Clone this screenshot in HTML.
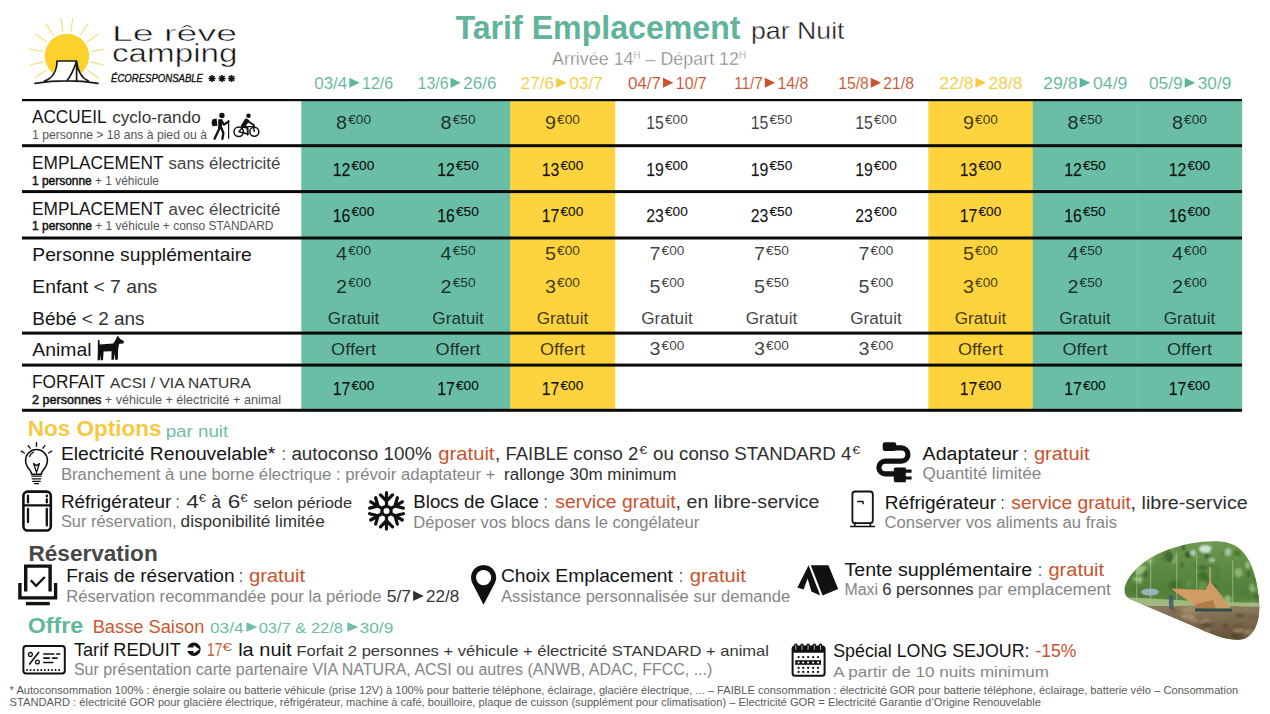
<!DOCTYPE html>
<html><head><meta charset="utf-8"><title>Tarif Emplacement</title>
<style>html,body{margin:0;padding:0;background:#fff;} svg{display:block;}</style></head>
<body><svg width="1270" height="714" viewBox="0 0 1270 714" font-family="Liberation Sans, sans-serif">
<rect width="1270" height="714" fill="#fff"/>
<rect x="301.3" y="100" width="104.9" height="311" fill="#6bbea6"/>
<rect x="405.8" y="100" width="104.9" height="311" fill="#6bbea6"/>
<rect x="510.3" y="100" width="104.9" height="311" fill="#fdd43d"/>
<rect x="928.3" y="100" width="104.9" height="311" fill="#fdd43d"/>
<rect x="1032.8" y="100" width="104.9" height="311" fill="#6bbea6"/>
<rect x="1137.3" y="100" width="104.9" height="311" fill="#6bbea6"/>
<rect x="22" y="99" width="1220" height="2.2" fill="#0a0a0a"/>
<rect x="22" y="144.2" width="1220" height="3" fill="#0a0a0a"/>
<rect x="22" y="190.1" width="1220" height="3" fill="#0a0a0a"/>
<rect x="22" y="236.5" width="1220" height="3" fill="#0a0a0a"/>
<rect x="22" y="331.6" width="1220" height="3" fill="#0a0a0a"/>
<rect x="22" y="363.6" width="1220" height="3" fill="#0a0a0a"/>
<rect x="22" y="408.8" width="1220" height="3" fill="#0a0a0a"/>
<text x="455.5" y="38.9" font-size="33" fill="#5fb49b" font-weight="bold" textLength="285.0" lengthAdjust="spacingAndGlyphs">Tarif Emplacement</text>
<text x="751.0" y="38.9" font-size="24.5" fill="#1a1a1a" textLength="93.5" lengthAdjust="spacingAndGlyphs" stroke="#fff" stroke-width="0.4">par Nuit</text>
<text x="552.0" y="64.6" font-size="18.5" fill="#7a7a7a" textLength="194.0" lengthAdjust="spacingAndGlyphs" stroke="#fff" stroke-width="0.4">Arrivée 14<tspan font-size="10" dy="-6">H</tspan><tspan dy="6"> – Départ 12</tspan><tspan font-size="10" dy="-6">H</tspan></text>
<text x="314.2" y="88.6" font-size="16.4" fill="#5fb49b" textLength="33.1" lengthAdjust="spacingAndGlyphs" stroke="#fff" stroke-width="0.1">03/4</text>
<path d="M349.3,77.8L359.7,82.75L349.3,87.7Z" fill="#5fb49b"/>
<text x="362.1" y="88.6" font-size="16.4" fill="#5fb49b" textLength="30.9" lengthAdjust="spacingAndGlyphs" stroke="#fff" stroke-width="0.1">12/6</text>
<text x="417.6" y="88.6" font-size="16.4" fill="#5fb49b" textLength="30.9" lengthAdjust="spacingAndGlyphs" stroke="#fff" stroke-width="0.1">13/6</text>
<path d="M450.5,77.8L460.9,82.75L450.5,87.7Z" fill="#5fb49b"/>
<text x="463.3" y="88.6" font-size="16.4" fill="#5fb49b" textLength="33.1" lengthAdjust="spacingAndGlyphs" stroke="#fff" stroke-width="0.1">26/6</text>
<text x="520.6" y="88.6" font-size="16.4" fill="#f4cc3f" textLength="33.6" lengthAdjust="spacingAndGlyphs" stroke="#fff" stroke-width="0.1">27/6</text>
<path d="M556.2,77.8L566.8,82.75L556.2,87.7Z" fill="#f4cc3f"/>
<text x="569.2" y="88.6" font-size="16.4" fill="#f4cc3f" textLength="33.6" lengthAdjust="spacingAndGlyphs" stroke="#fff" stroke-width="0.1">03/7</text>
<text x="627.9" y="88.6" font-size="16.4" fill="#c8532c" textLength="33.1" lengthAdjust="spacingAndGlyphs" stroke="#fff" stroke-width="0.1">04/7</text>
<path d="M663.0,77.8L673.4,82.75L663.0,87.7Z" fill="#c8532c"/>
<text x="675.8" y="88.6" font-size="16.4" fill="#c8532c" textLength="30.9" lengthAdjust="spacingAndGlyphs" stroke="#fff" stroke-width="0.1">10/7</text>
<text x="734.2" y="88.6" font-size="16.4" fill="#c8532c" textLength="28.6" lengthAdjust="spacingAndGlyphs" stroke="#fff" stroke-width="0.1">11/7</text>
<path d="M764.8,77.8L775.1,82.75L764.8,87.7Z" fill="#c8532c"/>
<text x="777.5" y="88.6" font-size="16.4" fill="#c8532c" textLength="30.8" lengthAdjust="spacingAndGlyphs" stroke="#fff" stroke-width="0.1">14/8</text>
<text x="838.2" y="88.6" font-size="16.4" fill="#c8532c" textLength="30.6" lengthAdjust="spacingAndGlyphs" stroke="#fff" stroke-width="0.1">15/8</text>
<path d="M870.7,77.8L881.0,82.75L870.7,87.7Z" fill="#c8532c"/>
<text x="883.3" y="88.6" font-size="16.4" fill="#c8532c" textLength="30.6" lengthAdjust="spacingAndGlyphs" stroke="#fff" stroke-width="0.1">21/8</text>
<text x="939.6" y="88.6" font-size="16.4" fill="#f4cc3f" textLength="33.8" lengthAdjust="spacingAndGlyphs" stroke="#fff" stroke-width="0.1">22/8</text>
<path d="M975.5,77.8L986.1,82.75L975.5,87.7Z" fill="#f4cc3f"/>
<text x="988.6" y="88.6" font-size="16.4" fill="#f4cc3f" textLength="33.8" lengthAdjust="spacingAndGlyphs" stroke="#fff" stroke-width="0.1">28/8</text>
<text x="1043.1" y="88.6" font-size="16.4" fill="#5fb49b" textLength="34.4" lengthAdjust="spacingAndGlyphs" stroke="#fff" stroke-width="0.1">29/8</text>
<path d="M1079.6,77.8L1090.4,82.75L1079.6,87.7Z" fill="#5fb49b"/>
<text x="1093.0" y="88.6" font-size="16.4" fill="#5fb49b" textLength="34.4" lengthAdjust="spacingAndGlyphs" stroke="#fff" stroke-width="0.1">04/9</text>
<text x="1148.9" y="88.6" font-size="16.4" fill="#5fb49b" textLength="33.7" lengthAdjust="spacingAndGlyphs" stroke="#fff" stroke-width="0.1">05/9</text>
<path d="M1184.7,77.8L1195.2,82.75L1184.7,87.7Z" fill="#5fb49b"/>
<text x="1197.7" y="88.6" font-size="16.4" fill="#5fb49b" textLength="33.7" lengthAdjust="spacingAndGlyphs" stroke="#fff" stroke-width="0.1">30/9</text>
<path d="M70.8,31.3L72.8,18.5M63.0,31.3L61.0,18.5M80.5,35.0L87.6,24.1M53.3,35.0L46.2,24.1M87.4,41.7L98.0,34.2M46.4,41.7L35.8,34.2M91.5,51.4L104.3,49.1M42.3,51.4L29.5,49.1M91.2,62.0L103.8,65.2M42.6,62.0L30.0,65.2M87.5,70.2L98.2,77.6M46.3,70.2L35.6,77.6" stroke="#f3e28e" stroke-width="1.3" stroke-linecap="round" fill="none"/>
<circle cx="66.9" cy="56" r="22.2" fill="#fdd12b"/>
<path d="M57,61 L76.6,61 C78,70 82,78 89,81 L90,84 L44,84 L44,81 C52,78 57,70 57,61Z" fill="#fff"/>
<path d="M57,61L76.6,61 M57,61 C57,70 53,78 44.5,81 M76.6,61 C77.5,70 81.5,78 88.5,81 M76.6,61 C74,69 71,76 67,80.5 M76.6,62 L76.6,80.5 M35,83.4 Q67,78.5 98,83.4" stroke="#1a1a1a" stroke-width="1.7" fill="none" stroke-linecap="round"/>
<text x="112.0" y="40.6" font-size="22.8" fill="#111" textLength="125.0" lengthAdjust="spacingAndGlyphs" stroke="#fff" stroke-width="0.45">Le rêve</text>
<text x="112.0" y="61.9" font-size="26" fill="#111" textLength="125.5" lengthAdjust="spacingAndGlyphs" stroke="#fff" stroke-width="0.5">camping</text>
<text x="111.0" y="81.8" font-size="11.2" fill="#111" textLength="92.0" lengthAdjust="spacingAndGlyphs" font-style="italic" stroke="#111" stroke-width="0.35">ÉCORESPONSABLE</text>
<path d="M208.40,78.50L215.60,78.50M209.45,75.95L214.55,81.05M212.00,74.90L212.00,82.10M214.55,75.95L209.45,81.05" stroke="#111" stroke-width="1.6"/>
<path d="M218.40,78.50L225.60,78.50M219.45,75.95L224.55,81.05M222.00,74.90L222.00,82.10M224.55,75.95L219.45,81.05" stroke="#111" stroke-width="1.6"/>
<path d="M227.90,78.50L235.10,78.50M228.95,75.95L234.05,81.05M231.50,74.90L231.50,82.10M234.05,75.95L228.95,81.05" stroke="#111" stroke-width="1.6"/>
<text x="32.0" y="122.5" font-size="17.6" fill="#151515" textLength="74.5" lengthAdjust="spacingAndGlyphs">ACCUEIL</text>
<text x="112.2" y="122.5" font-size="15.6" fill="#333" textLength="88.5" lengthAdjust="spacingAndGlyphs">cyclo-rando</text>
<text x="32.0" y="138.6" font-size="12.6" fill="#555" textLength="175.0" lengthAdjust="spacingAndGlyphs">1 personne &gt; 18 ans à pied ou à</text>
<text x="32.0" y="168.9" font-size="18.3" fill="#151515" textLength="131.5" lengthAdjust="spacingAndGlyphs">EMPLACEMENT</text>
<text x="168.5" y="168.9" font-size="15.8" fill="#444" textLength="112.0" lengthAdjust="spacingAndGlyphs">sans électricité</text>
<text x="32.0" y="184.5" font-size="12.2" fill="#222" textLength="127.0" lengthAdjust="spacingAndGlyphs"><tspan fill="#111" stroke="#111" stroke-width="0.45">1 personne</tspan><tspan fill="#555"> + 1 véhicule</tspan></text>
<text x="32.0" y="215.2" font-size="18.3" fill="#151515" textLength="131.5" lengthAdjust="spacingAndGlyphs">EMPLACEMENT</text>
<text x="168.5" y="215.2" font-size="15.8" fill="#444" textLength="112.0" lengthAdjust="spacingAndGlyphs">avec électricité</text>
<text x="32.0" y="230.4" font-size="12.2" fill="#222" textLength="241.5" lengthAdjust="spacingAndGlyphs"><tspan fill="#111" stroke="#111" stroke-width="0.45">1 personne</tspan><tspan fill="#555"> + 1 véhicule + conso STANDARD</tspan></text>
<text x="32.3" y="261.2" font-size="17.7" fill="#151515" textLength="219.5" lengthAdjust="spacingAndGlyphs">Personne supplémentaire</text>
<text x="32.3" y="292.9" font-size="17.7" fill="#151515" textLength="125.0" lengthAdjust="spacingAndGlyphs">Enfant<tspan fill="#333"> &lt; 7 ans</tspan></text>
<text x="32.3" y="324.6" font-size="17.7" fill="#151515" textLength="112.2" lengthAdjust="spacingAndGlyphs">Bébé<tspan fill="#333"> &lt; 2 ans</tspan></text>
<text x="32.3" y="356.3" font-size="17.7" fill="#151515" textLength="59.2" lengthAdjust="spacingAndGlyphs">Animal</text>
<text x="32.0" y="388.0" font-size="17.7" fill="#151515" textLength="72.8" lengthAdjust="spacingAndGlyphs">FORFAIT</text>
<text x="110.0" y="388.0" font-size="14.8" fill="#333" textLength="141.0" lengthAdjust="spacingAndGlyphs">ACSI / VIA NATURA</text>
<text x="32.0" y="403.9" font-size="12.2" fill="#222" textLength="249.0" lengthAdjust="spacingAndGlyphs"><tspan fill="#111" stroke="#111" stroke-width="0.45">2 personnes</tspan><tspan fill="#555"> + véhicule + électricité + animal</tspan></text>
<text x="336.1" y="129.4" font-size="17.6" textLength="11.0" lengthAdjust="spacingAndGlyphs" fill="#000" fill-opacity="0.76">8</text>
<text x="348.2" y="124.2" font-size="12.3" textLength="22.8" lengthAdjust="spacingAndGlyphs" fill="#000" fill-opacity="0.76">€00</text>
<text x="440.6" y="129.4" font-size="17.6" textLength="11.0" lengthAdjust="spacingAndGlyphs" fill="#000" fill-opacity="0.76">8</text>
<text x="452.7" y="124.2" font-size="12.3" textLength="22.8" lengthAdjust="spacingAndGlyphs" fill="#000" fill-opacity="0.76">€50</text>
<text x="545.0" y="129.4" font-size="17.6" textLength="11.0" lengthAdjust="spacingAndGlyphs" fill="#000" fill-opacity="0.76">9</text>
<text x="557.1" y="124.2" font-size="12.3" textLength="22.8" lengthAdjust="spacingAndGlyphs" fill="#000" fill-opacity="0.76">€00</text>
<text x="646.2" y="129.4" font-size="17.6" textLength="17.6" lengthAdjust="spacingAndGlyphs" fill="#000" fill-opacity="0.76">15</text>
<text x="665.0" y="124.2" font-size="12.3" textLength="22.8" lengthAdjust="spacingAndGlyphs" fill="#000" fill-opacity="0.76">€00</text>
<text x="750.8" y="129.4" font-size="17.6" textLength="17.6" lengthAdjust="spacingAndGlyphs" fill="#000" fill-opacity="0.76">15</text>
<text x="769.5" y="124.2" font-size="12.3" textLength="22.8" lengthAdjust="spacingAndGlyphs" fill="#000" fill-opacity="0.76">€50</text>
<text x="855.2" y="129.4" font-size="17.6" textLength="17.6" lengthAdjust="spacingAndGlyphs" fill="#000" fill-opacity="0.76">15</text>
<text x="874.0" y="124.2" font-size="12.3" textLength="22.8" lengthAdjust="spacingAndGlyphs" fill="#000" fill-opacity="0.76">€00</text>
<text x="963.0" y="129.4" font-size="17.6" textLength="11.0" lengthAdjust="spacingAndGlyphs" fill="#000" fill-opacity="0.76">9</text>
<text x="975.1" y="124.2" font-size="12.3" textLength="22.8" lengthAdjust="spacingAndGlyphs" fill="#000" fill-opacity="0.76">€00</text>
<text x="1067.5" y="129.4" font-size="17.6" textLength="11.0" lengthAdjust="spacingAndGlyphs" fill="#000" fill-opacity="0.76">8</text>
<text x="1079.6" y="124.2" font-size="12.3" textLength="22.8" lengthAdjust="spacingAndGlyphs" fill="#000" fill-opacity="0.76">€50</text>
<text x="1172.0" y="129.4" font-size="17.6" textLength="11.0" lengthAdjust="spacingAndGlyphs" fill="#000" fill-opacity="0.76">8</text>
<text x="1184.1" y="124.2" font-size="12.3" textLength="22.8" lengthAdjust="spacingAndGlyphs" fill="#000" fill-opacity="0.76">€00</text>
<text x="332.8" y="175.5" font-size="17.6" textLength="17.6" lengthAdjust="spacingAndGlyphs" fill="#000" fill-opacity="0.93" stroke="#000" stroke-opacity="0.5" stroke-width="0.25">12</text>
<text x="351.5" y="170.3" font-size="12.3" textLength="22.8" lengthAdjust="spacingAndGlyphs" fill="#000" fill-opacity="0.93" stroke="#000" stroke-opacity="0.5" stroke-width="0.25">€00</text>
<text x="437.2" y="175.5" font-size="17.6" textLength="17.6" lengthAdjust="spacingAndGlyphs" fill="#000" fill-opacity="0.93" stroke="#000" stroke-opacity="0.5" stroke-width="0.25">12</text>
<text x="456.0" y="170.3" font-size="12.3" textLength="22.8" lengthAdjust="spacingAndGlyphs" fill="#000" fill-opacity="0.93" stroke="#000" stroke-opacity="0.5" stroke-width="0.25">€50</text>
<text x="541.8" y="175.5" font-size="17.6" textLength="17.6" lengthAdjust="spacingAndGlyphs" fill="#000" fill-opacity="0.93" stroke="#000" stroke-opacity="0.5" stroke-width="0.25">13</text>
<text x="560.5" y="170.3" font-size="12.3" textLength="22.8" lengthAdjust="spacingAndGlyphs" fill="#000" fill-opacity="0.93" stroke="#000" stroke-opacity="0.5" stroke-width="0.25">€00</text>
<text x="646.2" y="175.5" font-size="17.6" textLength="17.6" lengthAdjust="spacingAndGlyphs" fill="#000" fill-opacity="0.93" stroke="#000" stroke-opacity="0.5" stroke-width="0.25">19</text>
<text x="665.0" y="170.3" font-size="12.3" textLength="22.8" lengthAdjust="spacingAndGlyphs" fill="#000" fill-opacity="0.93" stroke="#000" stroke-opacity="0.5" stroke-width="0.25">€00</text>
<text x="750.8" y="175.5" font-size="17.6" textLength="17.6" lengthAdjust="spacingAndGlyphs" fill="#000" fill-opacity="0.93" stroke="#000" stroke-opacity="0.5" stroke-width="0.25">19</text>
<text x="769.5" y="170.3" font-size="12.3" textLength="22.8" lengthAdjust="spacingAndGlyphs" fill="#000" fill-opacity="0.93" stroke="#000" stroke-opacity="0.5" stroke-width="0.25">€50</text>
<text x="855.2" y="175.5" font-size="17.6" textLength="17.6" lengthAdjust="spacingAndGlyphs" fill="#000" fill-opacity="0.93" stroke="#000" stroke-opacity="0.5" stroke-width="0.25">19</text>
<text x="874.0" y="170.3" font-size="12.3" textLength="22.8" lengthAdjust="spacingAndGlyphs" fill="#000" fill-opacity="0.93" stroke="#000" stroke-opacity="0.5" stroke-width="0.25">€00</text>
<text x="959.8" y="175.5" font-size="17.6" textLength="17.6" lengthAdjust="spacingAndGlyphs" fill="#000" fill-opacity="0.93" stroke="#000" stroke-opacity="0.5" stroke-width="0.25">13</text>
<text x="978.5" y="170.3" font-size="12.3" textLength="22.8" lengthAdjust="spacingAndGlyphs" fill="#000" fill-opacity="0.93" stroke="#000" stroke-opacity="0.5" stroke-width="0.25">€00</text>
<text x="1064.2" y="175.5" font-size="17.6" textLength="17.6" lengthAdjust="spacingAndGlyphs" fill="#000" fill-opacity="0.93" stroke="#000" stroke-opacity="0.5" stroke-width="0.25">12</text>
<text x="1082.9" y="170.3" font-size="12.3" textLength="22.8" lengthAdjust="spacingAndGlyphs" fill="#000" fill-opacity="0.93" stroke="#000" stroke-opacity="0.5" stroke-width="0.25">€50</text>
<text x="1168.8" y="175.5" font-size="17.6" textLength="17.6" lengthAdjust="spacingAndGlyphs" fill="#000" fill-opacity="0.93" stroke="#000" stroke-opacity="0.5" stroke-width="0.25">12</text>
<text x="1187.4" y="170.3" font-size="12.3" textLength="22.8" lengthAdjust="spacingAndGlyphs" fill="#000" fill-opacity="0.93" stroke="#000" stroke-opacity="0.5" stroke-width="0.25">€00</text>
<text x="332.8" y="221.6" font-size="17.6" textLength="17.6" lengthAdjust="spacingAndGlyphs" fill="#000" fill-opacity="0.93" stroke="#000" stroke-opacity="0.5" stroke-width="0.25">16</text>
<text x="351.5" y="216.4" font-size="12.3" textLength="22.8" lengthAdjust="spacingAndGlyphs" fill="#000" fill-opacity="0.93" stroke="#000" stroke-opacity="0.5" stroke-width="0.25">€00</text>
<text x="437.2" y="221.6" font-size="17.6" textLength="17.6" lengthAdjust="spacingAndGlyphs" fill="#000" fill-opacity="0.93" stroke="#000" stroke-opacity="0.5" stroke-width="0.25">16</text>
<text x="456.0" y="216.4" font-size="12.3" textLength="22.8" lengthAdjust="spacingAndGlyphs" fill="#000" fill-opacity="0.93" stroke="#000" stroke-opacity="0.5" stroke-width="0.25">€50</text>
<text x="541.8" y="221.6" font-size="17.6" textLength="17.6" lengthAdjust="spacingAndGlyphs" fill="#000" fill-opacity="0.93" stroke="#000" stroke-opacity="0.5" stroke-width="0.25">17</text>
<text x="560.5" y="216.4" font-size="12.3" textLength="22.8" lengthAdjust="spacingAndGlyphs" fill="#000" fill-opacity="0.93" stroke="#000" stroke-opacity="0.5" stroke-width="0.25">€00</text>
<text x="646.2" y="221.6" font-size="17.6" textLength="17.6" lengthAdjust="spacingAndGlyphs" fill="#000" fill-opacity="0.93" stroke="#000" stroke-opacity="0.5" stroke-width="0.25">23</text>
<text x="665.0" y="216.4" font-size="12.3" textLength="22.8" lengthAdjust="spacingAndGlyphs" fill="#000" fill-opacity="0.93" stroke="#000" stroke-opacity="0.5" stroke-width="0.25">€00</text>
<text x="750.8" y="221.6" font-size="17.6" textLength="17.6" lengthAdjust="spacingAndGlyphs" fill="#000" fill-opacity="0.93" stroke="#000" stroke-opacity="0.5" stroke-width="0.25">23</text>
<text x="769.5" y="216.4" font-size="12.3" textLength="22.8" lengthAdjust="spacingAndGlyphs" fill="#000" fill-opacity="0.93" stroke="#000" stroke-opacity="0.5" stroke-width="0.25">€50</text>
<text x="855.2" y="221.6" font-size="17.6" textLength="17.6" lengthAdjust="spacingAndGlyphs" fill="#000" fill-opacity="0.93" stroke="#000" stroke-opacity="0.5" stroke-width="0.25">23</text>
<text x="874.0" y="216.4" font-size="12.3" textLength="22.8" lengthAdjust="spacingAndGlyphs" fill="#000" fill-opacity="0.93" stroke="#000" stroke-opacity="0.5" stroke-width="0.25">€00</text>
<text x="959.8" y="221.6" font-size="17.6" textLength="17.6" lengthAdjust="spacingAndGlyphs" fill="#000" fill-opacity="0.93" stroke="#000" stroke-opacity="0.5" stroke-width="0.25">17</text>
<text x="978.5" y="216.4" font-size="12.3" textLength="22.8" lengthAdjust="spacingAndGlyphs" fill="#000" fill-opacity="0.93" stroke="#000" stroke-opacity="0.5" stroke-width="0.25">€00</text>
<text x="1064.2" y="221.6" font-size="17.6" textLength="17.6" lengthAdjust="spacingAndGlyphs" fill="#000" fill-opacity="0.93" stroke="#000" stroke-opacity="0.5" stroke-width="0.25">16</text>
<text x="1082.9" y="216.4" font-size="12.3" textLength="22.8" lengthAdjust="spacingAndGlyphs" fill="#000" fill-opacity="0.93" stroke="#000" stroke-opacity="0.5" stroke-width="0.25">€50</text>
<text x="1168.8" y="221.6" font-size="17.6" textLength="17.6" lengthAdjust="spacingAndGlyphs" fill="#000" fill-opacity="0.93" stroke="#000" stroke-opacity="0.5" stroke-width="0.25">16</text>
<text x="1187.4" y="216.4" font-size="12.3" textLength="22.8" lengthAdjust="spacingAndGlyphs" fill="#000" fill-opacity="0.93" stroke="#000" stroke-opacity="0.5" stroke-width="0.25">€00</text>
<text x="336.1" y="260.4" font-size="17.6" textLength="11.0" lengthAdjust="spacingAndGlyphs" fill="#000" fill-opacity="0.76">4</text>
<text x="348.2" y="255.2" font-size="12.3" textLength="22.8" lengthAdjust="spacingAndGlyphs" fill="#000" fill-opacity="0.76">€00</text>
<text x="440.6" y="260.4" font-size="17.6" textLength="11.0" lengthAdjust="spacingAndGlyphs" fill="#000" fill-opacity="0.76">4</text>
<text x="452.7" y="255.2" font-size="12.3" textLength="22.8" lengthAdjust="spacingAndGlyphs" fill="#000" fill-opacity="0.76">€50</text>
<text x="545.0" y="260.4" font-size="17.6" textLength="11.0" lengthAdjust="spacingAndGlyphs" fill="#000" fill-opacity="0.76">5</text>
<text x="557.1" y="255.2" font-size="12.3" textLength="22.8" lengthAdjust="spacingAndGlyphs" fill="#000" fill-opacity="0.76">€00</text>
<text x="649.5" y="260.4" font-size="17.6" textLength="11.0" lengthAdjust="spacingAndGlyphs" fill="#000" fill-opacity="0.76">7</text>
<text x="661.6" y="255.2" font-size="12.3" textLength="22.8" lengthAdjust="spacingAndGlyphs" fill="#000" fill-opacity="0.76">€00</text>
<text x="754.0" y="260.4" font-size="17.6" textLength="11.0" lengthAdjust="spacingAndGlyphs" fill="#000" fill-opacity="0.76">7</text>
<text x="766.1" y="255.2" font-size="12.3" textLength="22.8" lengthAdjust="spacingAndGlyphs" fill="#000" fill-opacity="0.76">€50</text>
<text x="858.5" y="260.4" font-size="17.6" textLength="11.0" lengthAdjust="spacingAndGlyphs" fill="#000" fill-opacity="0.76">7</text>
<text x="870.6" y="255.2" font-size="12.3" textLength="22.8" lengthAdjust="spacingAndGlyphs" fill="#000" fill-opacity="0.76">€00</text>
<text x="963.0" y="260.4" font-size="17.6" textLength="11.0" lengthAdjust="spacingAndGlyphs" fill="#000" fill-opacity="0.76">5</text>
<text x="975.1" y="255.2" font-size="12.3" textLength="22.8" lengthAdjust="spacingAndGlyphs" fill="#000" fill-opacity="0.76">€00</text>
<text x="1067.5" y="260.4" font-size="17.6" textLength="11.0" lengthAdjust="spacingAndGlyphs" fill="#000" fill-opacity="0.76">4</text>
<text x="1079.6" y="255.2" font-size="12.3" textLength="22.8" lengthAdjust="spacingAndGlyphs" fill="#000" fill-opacity="0.76">€50</text>
<text x="1172.0" y="260.4" font-size="17.6" textLength="11.0" lengthAdjust="spacingAndGlyphs" fill="#000" fill-opacity="0.76">4</text>
<text x="1184.1" y="255.2" font-size="12.3" textLength="22.8" lengthAdjust="spacingAndGlyphs" fill="#000" fill-opacity="0.76">€00</text>
<text x="336.1" y="292.5" font-size="17.6" textLength="11.0" lengthAdjust="spacingAndGlyphs" fill="#000" fill-opacity="0.76">2</text>
<text x="348.2" y="287.3" font-size="12.3" textLength="22.8" lengthAdjust="spacingAndGlyphs" fill="#000" fill-opacity="0.76">€00</text>
<text x="440.6" y="292.5" font-size="17.6" textLength="11.0" lengthAdjust="spacingAndGlyphs" fill="#000" fill-opacity="0.76">2</text>
<text x="452.7" y="287.3" font-size="12.3" textLength="22.8" lengthAdjust="spacingAndGlyphs" fill="#000" fill-opacity="0.76">€50</text>
<text x="545.0" y="292.5" font-size="17.6" textLength="11.0" lengthAdjust="spacingAndGlyphs" fill="#000" fill-opacity="0.76">3</text>
<text x="557.1" y="287.3" font-size="12.3" textLength="22.8" lengthAdjust="spacingAndGlyphs" fill="#000" fill-opacity="0.76">€00</text>
<text x="649.5" y="292.5" font-size="17.6" textLength="11.0" lengthAdjust="spacingAndGlyphs" fill="#000" fill-opacity="0.76">5</text>
<text x="661.6" y="287.3" font-size="12.3" textLength="22.8" lengthAdjust="spacingAndGlyphs" fill="#000" fill-opacity="0.76">€00</text>
<text x="754.0" y="292.5" font-size="17.6" textLength="11.0" lengthAdjust="spacingAndGlyphs" fill="#000" fill-opacity="0.76">5</text>
<text x="766.1" y="287.3" font-size="12.3" textLength="22.8" lengthAdjust="spacingAndGlyphs" fill="#000" fill-opacity="0.76">€50</text>
<text x="858.5" y="292.5" font-size="17.6" textLength="11.0" lengthAdjust="spacingAndGlyphs" fill="#000" fill-opacity="0.76">5</text>
<text x="870.6" y="287.3" font-size="12.3" textLength="22.8" lengthAdjust="spacingAndGlyphs" fill="#000" fill-opacity="0.76">€00</text>
<text x="963.0" y="292.5" font-size="17.6" textLength="11.0" lengthAdjust="spacingAndGlyphs" fill="#000" fill-opacity="0.76">3</text>
<text x="975.1" y="287.3" font-size="12.3" textLength="22.8" lengthAdjust="spacingAndGlyphs" fill="#000" fill-opacity="0.76">€00</text>
<text x="1067.5" y="292.5" font-size="17.6" textLength="11.0" lengthAdjust="spacingAndGlyphs" fill="#000" fill-opacity="0.76">2</text>
<text x="1079.6" y="287.3" font-size="12.3" textLength="22.8" lengthAdjust="spacingAndGlyphs" fill="#000" fill-opacity="0.76">€50</text>
<text x="1172.0" y="292.5" font-size="17.6" textLength="11.0" lengthAdjust="spacingAndGlyphs" fill="#000" fill-opacity="0.76">2</text>
<text x="1184.1" y="287.3" font-size="12.3" textLength="22.8" lengthAdjust="spacingAndGlyphs" fill="#000" fill-opacity="0.76">€00</text>
<text x="353.6" y="323.7" font-size="16.3" text-anchor="middle" textLength="51.5" lengthAdjust="spacingAndGlyphs" fill="#000" fill-opacity="0.76">Gratuit</text>
<text x="458.1" y="323.7" font-size="16.3" text-anchor="middle" textLength="51.5" lengthAdjust="spacingAndGlyphs" fill="#000" fill-opacity="0.76">Gratuit</text>
<text x="562.5" y="323.7" font-size="16.3" text-anchor="middle" textLength="51.5" lengthAdjust="spacingAndGlyphs" fill="#000" fill-opacity="0.76">Gratuit</text>
<text x="667.0" y="323.7" font-size="16.3" text-anchor="middle" textLength="51.5" lengthAdjust="spacingAndGlyphs" fill="#000" fill-opacity="0.76">Gratuit</text>
<text x="771.5" y="323.7" font-size="16.3" text-anchor="middle" textLength="51.5" lengthAdjust="spacingAndGlyphs" fill="#000" fill-opacity="0.76">Gratuit</text>
<text x="876.0" y="323.7" font-size="16.3" text-anchor="middle" textLength="51.5" lengthAdjust="spacingAndGlyphs" fill="#000" fill-opacity="0.76">Gratuit</text>
<text x="980.5" y="323.7" font-size="16.3" text-anchor="middle" textLength="51.5" lengthAdjust="spacingAndGlyphs" fill="#000" fill-opacity="0.76">Gratuit</text>
<text x="1085.0" y="323.7" font-size="16.3" text-anchor="middle" textLength="51.5" lengthAdjust="spacingAndGlyphs" fill="#000" fill-opacity="0.76">Gratuit</text>
<text x="1189.5" y="323.7" font-size="16.3" text-anchor="middle" textLength="51.5" lengthAdjust="spacingAndGlyphs" fill="#000" fill-opacity="0.76">Gratuit</text>
<text x="353.6" y="354.7" font-size="16.3" text-anchor="middle" textLength="45" lengthAdjust="spacingAndGlyphs" fill="#000" fill-opacity="0.76">Offert</text>
<text x="458.1" y="354.7" font-size="16.3" text-anchor="middle" textLength="45" lengthAdjust="spacingAndGlyphs" fill="#000" fill-opacity="0.76">Offert</text>
<text x="562.5" y="354.7" font-size="16.3" text-anchor="middle" textLength="45" lengthAdjust="spacingAndGlyphs" fill="#000" fill-opacity="0.76">Offert</text>
<text x="649.5" y="354.7" font-size="17.6" textLength="11.0" lengthAdjust="spacingAndGlyphs" fill="#000" fill-opacity="0.76">3</text>
<text x="661.6" y="349.5" font-size="12.3" textLength="22.8" lengthAdjust="spacingAndGlyphs" fill="#000" fill-opacity="0.76">€00</text>
<text x="754.0" y="354.7" font-size="17.6" textLength="11.0" lengthAdjust="spacingAndGlyphs" fill="#000" fill-opacity="0.76">3</text>
<text x="766.1" y="349.5" font-size="12.3" textLength="22.8" lengthAdjust="spacingAndGlyphs" fill="#000" fill-opacity="0.76">€00</text>
<text x="858.5" y="354.7" font-size="17.6" textLength="11.0" lengthAdjust="spacingAndGlyphs" fill="#000" fill-opacity="0.76">3</text>
<text x="870.6" y="349.5" font-size="12.3" textLength="22.8" lengthAdjust="spacingAndGlyphs" fill="#000" fill-opacity="0.76">€00</text>
<text x="980.5" y="354.7" font-size="16.3" text-anchor="middle" textLength="45" lengthAdjust="spacingAndGlyphs" fill="#000" fill-opacity="0.76">Offert</text>
<text x="1085.0" y="354.7" font-size="16.3" text-anchor="middle" textLength="45" lengthAdjust="spacingAndGlyphs" fill="#000" fill-opacity="0.76">Offert</text>
<text x="1189.5" y="354.7" font-size="16.3" text-anchor="middle" textLength="45" lengthAdjust="spacingAndGlyphs" fill="#000" fill-opacity="0.76">Offert</text>
<text x="332.8" y="395.0" font-size="17.6" textLength="17.6" lengthAdjust="spacingAndGlyphs" fill="#000" fill-opacity="0.93" stroke="#000" stroke-opacity="0.5" stroke-width="0.25">17</text>
<text x="351.5" y="389.8" font-size="12.3" textLength="22.8" lengthAdjust="spacingAndGlyphs" fill="#000" fill-opacity="0.93" stroke="#000" stroke-opacity="0.5" stroke-width="0.25">€00</text>
<text x="437.2" y="395.0" font-size="17.6" textLength="17.6" lengthAdjust="spacingAndGlyphs" fill="#000" fill-opacity="0.93" stroke="#000" stroke-opacity="0.5" stroke-width="0.25">17</text>
<text x="456.0" y="389.8" font-size="12.3" textLength="22.8" lengthAdjust="spacingAndGlyphs" fill="#000" fill-opacity="0.93" stroke="#000" stroke-opacity="0.5" stroke-width="0.25">€00</text>
<text x="541.8" y="395.0" font-size="17.6" textLength="17.6" lengthAdjust="spacingAndGlyphs" fill="#000" fill-opacity="0.93" stroke="#000" stroke-opacity="0.5" stroke-width="0.25">17</text>
<text x="560.5" y="389.8" font-size="12.3" textLength="22.8" lengthAdjust="spacingAndGlyphs" fill="#000" fill-opacity="0.93" stroke="#000" stroke-opacity="0.5" stroke-width="0.25">€00</text>
<text x="959.8" y="395.0" font-size="17.6" textLength="17.6" lengthAdjust="spacingAndGlyphs" fill="#000" fill-opacity="0.93" stroke="#000" stroke-opacity="0.5" stroke-width="0.25">17</text>
<text x="978.5" y="389.8" font-size="12.3" textLength="22.8" lengthAdjust="spacingAndGlyphs" fill="#000" fill-opacity="0.93" stroke="#000" stroke-opacity="0.5" stroke-width="0.25">€00</text>
<text x="1064.2" y="395.0" font-size="17.6" textLength="17.6" lengthAdjust="spacingAndGlyphs" fill="#000" fill-opacity="0.93" stroke="#000" stroke-opacity="0.5" stroke-width="0.25">17</text>
<text x="1082.9" y="389.8" font-size="12.3" textLength="22.8" lengthAdjust="spacingAndGlyphs" fill="#000" fill-opacity="0.93" stroke="#000" stroke-opacity="0.5" stroke-width="0.25">€00</text>
<text x="1168.8" y="395.0" font-size="17.6" textLength="17.6" lengthAdjust="spacingAndGlyphs" fill="#000" fill-opacity="0.93" stroke="#000" stroke-opacity="0.5" stroke-width="0.25">17</text>
<text x="1187.4" y="389.8" font-size="12.3" textLength="22.8" lengthAdjust="spacingAndGlyphs" fill="#000" fill-opacity="0.93" stroke="#000" stroke-opacity="0.5" stroke-width="0.25">€00</text>
<g fill="#111" stroke="none"><circle cx="221.9" cy="115.4" r="2.7"/><path d="M212.8,119.3 L216.6,118.4 L217.4,125.8 L212.6,126.2 Q210.6,122.5 212.8,119.3Z"/><path d="M218.2,119.2 L222.6,119.2 L221.8,128.6 L218.2,128.2Z"/></g>
<path d="M221.5,121 L224,124.6 L228.4,121.6 M219.6,128 L214.6,138.8 M221.4,128 L223.4,133.2 L222.4,138.8" stroke="#111" stroke-width="2.3" fill="none" stroke-linecap="round" stroke-linejoin="round"/>
<path d="M228.6,120 L228.6,138.8" stroke="#111" stroke-width="1.2"/>
<g fill="none" stroke="#111" stroke-width="1.5"><circle cx="238.7" cy="131.8" r="4.7"/><circle cx="254.3" cy="131.8" r="4.5"/></g>
<circle cx="248.5" cy="115.7" r="2.3" fill="#111"/>
<path d="M245.2,118.6 Q247.6,118.4 249.4,120.4 L244.6,128 L240.4,126.6Z" fill="#111"/>
<path d="M246.8,120.6 L253.6,124.8 L254.2,127 M242,126.4 L247.6,128.2 L247.8,134.6" stroke="#111" stroke-width="1.9" fill="none" stroke-linecap="round" stroke-linejoin="round"/>
<path d="M238.7,131.8 L243.5,126.6 L253.5,126.6 L254.3,131.8 M238.7,131.8 L247.8,134" stroke="#111" stroke-width="1.4" fill="none" stroke-linejoin="round"/>
<path fill="#111" d="M97.9,340 L99.4,340 L99.8,344.4 L113.2,343.4 L115.8,339.6 L117.6,335.6 L120.2,339 L123.9,341 L123.4,343.4 L119.2,343.8 L118.2,348.2 L117.8,359.7 L115.2,359.7 L114.8,353.4 L113.8,359.7 L111.4,359.7 L111.6,351.2 L103.6,351.4 L103,360.3 L100.6,360.3 L100.6,355 L99.8,360.3 L97.6,360.3 L97.8,350 Z"/>
<text x="27.7" y="436.4" font-size="21.8" fill="#f5ca43" font-weight="bold" textLength="133.8" lengthAdjust="spacingAndGlyphs">Nos Options</text>
<text x="165.7" y="437.2" font-size="17" fill="#6fbea6" textLength="62.5" lengthAdjust="spacingAndGlyphs">par nuit</text>
<text x="60.9" y="459.9" font-size="17.6" fill="#141414" textLength="214.3" lengthAdjust="spacingAndGlyphs">Electricité Renouvelable*</text>
<text x="281.9" y="459.9" font-size="17.6" fill="#2e2e2e" textLength="3.5" lengthAdjust="spacingAndGlyphs">:</text>
<text x="291.4" y="459.9" font-size="17.6" fill="#2e2e2e" textLength="140.4" lengthAdjust="spacingAndGlyphs">autoconso 100%</text>
<text x="438.3" y="459.9" font-size="17.6" fill="#c9522c" textLength="56.2" lengthAdjust="spacingAndGlyphs">gratuit</text>
<text x="495.1" y="459.9" font-size="17.6" fill="#2e2e2e" textLength="143.2" lengthAdjust="spacingAndGlyphs">, FAIBLE conso 2</text>
<text x="639.2" y="454.4" font-size="11" fill="#2e2e2e" textLength="7.8" lengthAdjust="spacingAndGlyphs">€</text>
<text x="653.1" y="459.9" font-size="17.6" fill="#2e2e2e" textLength="198.3" lengthAdjust="spacingAndGlyphs">ou conso STANDARD 4</text>
<text x="852.3" y="454.4" font-size="11" fill="#2e2e2e" textLength="7.8" lengthAdjust="spacingAndGlyphs">€</text>
<text x="60.9" y="479.5" font-size="15.6" fill="#858585" textLength="434.5" lengthAdjust="spacingAndGlyphs">Branchement à une borne électrique : prévoir adaptateur +</text>
<text x="504.1" y="479.5" font-size="15.6" fill="#2e2e2e" textLength="172.3" lengthAdjust="spacingAndGlyphs">rallonge 30m minimum</text>
<text x="60.9" y="507.7" font-size="17.6" fill="#141414" textLength="110.4" lengthAdjust="spacingAndGlyphs">Réfrigérateur</text>
<text x="176.1" y="507.7" font-size="17.6" fill="#2e2e2e" textLength="3.3" lengthAdjust="spacingAndGlyphs">:</text>
<text x="186.3" y="507.7" font-size="17.6" fill="#2e2e2e" textLength="12.7" lengthAdjust="spacingAndGlyphs">4</text>
<text x="198.8" y="502.2" font-size="11" fill="#2e2e2e" textLength="7.1" lengthAdjust="spacingAndGlyphs">€</text>
<text x="211.5" y="507.7" font-size="17.6" fill="#2e2e2e" textLength="9.4" lengthAdjust="spacingAndGlyphs">à</text>
<text x="227.8" y="507.7" font-size="17.6" fill="#2e2e2e" textLength="12.6" lengthAdjust="spacingAndGlyphs">6</text>
<text x="240.2" y="502.2" font-size="11" fill="#2e2e2e" textLength="7.3" lengthAdjust="spacingAndGlyphs">€</text>
<text x="253.6" y="507.7" font-size="15" fill="#2e2e2e" textLength="98.5" lengthAdjust="spacingAndGlyphs">selon période</text>
<text x="60.9" y="527.4" font-size="15.6" fill="#858585" textLength="115.8" lengthAdjust="spacingAndGlyphs">Sur réservation,</text>
<text x="180.6" y="527.4" font-size="15.6" fill="#333" textLength="144.1" lengthAdjust="spacingAndGlyphs">disponibilité limitée</text>
<text x="413.3" y="508.0" font-size="17.6" fill="#141414" textLength="125.5" lengthAdjust="spacingAndGlyphs">Blocs de Glace</text>
<text x="544.1" y="508.0" font-size="17.6" fill="#2e2e2e" textLength="3.3" lengthAdjust="spacingAndGlyphs">:</text>
<text x="555.3" y="508.0" font-size="17.6" fill="#c9522c" textLength="120.4" lengthAdjust="spacingAndGlyphs">service gratuit</text>
<text x="675.6" y="508.0" font-size="17.6" fill="#2e2e2e" textLength="143.9" lengthAdjust="spacingAndGlyphs">, en libre-service</text>
<text x="413.3" y="527.7" font-size="15.6" fill="#858585" textLength="285.9" lengthAdjust="spacingAndGlyphs">Déposer vos blocs dans le congélateur</text>
<text x="922.6" y="459.8" font-size="17.6" fill="#141414" textLength="96.0" lengthAdjust="spacingAndGlyphs">Adaptateur</text>
<text x="1023.4" y="459.8" font-size="17.6" fill="#2e2e2e" textLength="3.5" lengthAdjust="spacingAndGlyphs">:</text>
<text x="1033.9" y="459.8" font-size="17.6" fill="#c9522c" textLength="55.7" lengthAdjust="spacingAndGlyphs">gratuit</text>
<text x="922.6" y="479.2" font-size="15.6" fill="#858585" textLength="118.6" lengthAdjust="spacingAndGlyphs">Quantité limitée</text>
<text x="884.8" y="509.1" font-size="17.6" fill="#141414" textLength="111.2" lengthAdjust="spacingAndGlyphs">Réfrigérateur</text>
<text x="1000.8" y="509.1" font-size="17.6" fill="#2e2e2e" textLength="3.6" lengthAdjust="spacingAndGlyphs">:</text>
<text x="1011.3" y="509.1" font-size="17.6" fill="#c9522c" textLength="119.6" lengthAdjust="spacingAndGlyphs">service gratuit</text>
<text x="1130.6" y="509.1" font-size="17.6" fill="#2e2e2e" textLength="117.1" lengthAdjust="spacingAndGlyphs">, libre-service</text>
<text x="884.6" y="527.8" font-size="15.6" fill="#858585" textLength="232.4" lengthAdjust="spacingAndGlyphs">Conserver vos aliments au frais</text>
<text x="28.5" y="561.4" font-size="21.6" fill="#474747" font-weight="bold" textLength="129.2" lengthAdjust="spacingAndGlyphs">Réservation</text>
<text x="66.2" y="581.6" font-size="17.6" fill="#141414" textLength="168.3" lengthAdjust="spacingAndGlyphs">Frais de réservation</text>
<text x="239.2" y="581.6" font-size="17.6" fill="#2e2e2e" textLength="3.5" lengthAdjust="spacingAndGlyphs">:</text>
<text x="248.9" y="581.6" font-size="17.6" fill="#c9522c" textLength="56.2" lengthAdjust="spacingAndGlyphs">gratuit</text>
<text x="66.2" y="601.8" font-size="15.6" fill="#858585" textLength="315.4" lengthAdjust="spacingAndGlyphs">Réservation recommandée pour la période</text>
<text x="386.7" y="601.8" font-size="15.6" fill="#333" textLength="24.4" lengthAdjust="spacingAndGlyphs">5/7</text>
<path d="M413.1,590.7L423.8,595.90L413.1,601.1Z" fill="#333"/>
<text x="426.1" y="601.8" font-size="15.6" fill="#333" textLength="33.3" lengthAdjust="spacingAndGlyphs">22/8</text>
<text x="500.9" y="582.3" font-size="17.6" fill="#141414" textLength="172.0" lengthAdjust="spacingAndGlyphs">Choix Emplacement</text>
<text x="679.2" y="582.3" font-size="17.6" fill="#2e2e2e" textLength="3.5" lengthAdjust="spacingAndGlyphs">:</text>
<text x="689.8" y="582.3" font-size="17.6" fill="#c9522c" textLength="56.0" lengthAdjust="spacingAndGlyphs">gratuit</text>
<text x="500.9" y="602.0" font-size="15.6" fill="#858585" textLength="289.3" lengthAdjust="spacingAndGlyphs">Assistance personnalisée sur demande</text>
<text x="844.4" y="575.9" font-size="17.6" fill="#141414" textLength="187.9" lengthAdjust="spacingAndGlyphs">Tente supplémentaire</text>
<text x="1038.2" y="575.9" font-size="17.6" fill="#2e2e2e" textLength="3.5" lengthAdjust="spacingAndGlyphs">:</text>
<text x="1048.5" y="575.9" font-size="17.6" fill="#c9522c" textLength="55.6" lengthAdjust="spacingAndGlyphs">gratuit</text>
<text x="844.4" y="594.8" font-size="15.6" fill="#858585" textLength="33.7" lengthAdjust="spacingAndGlyphs">Maxi</text>
<text x="882.2" y="594.8" font-size="15.6" fill="#333" textLength="91.5" lengthAdjust="spacingAndGlyphs">6 personnes</text>
<text x="977.8" y="594.8" font-size="15.6" fill="#858585" textLength="133.1" lengthAdjust="spacingAndGlyphs">par emplacement</text>
<text x="27.8" y="632.7" font-size="22.8" fill="#62b79d" font-weight="bold" textLength="55.3" lengthAdjust="spacingAndGlyphs">Offre</text>
<text x="92.7" y="632.7" font-size="18.3" fill="#c9582f" textLength="111.7" lengthAdjust="spacingAndGlyphs">Basse Saison</text>
<text x="209.9" y="632.7" font-size="15.2" fill="#6dbda5" textLength="33.8" lengthAdjust="spacingAndGlyphs">03/4</text>
<path d="M246.5,622.3L257.5,627.05L246.5,631.8Z" fill="#6dbda5"/>
<text x="258.7" y="632.7" font-size="15.2" fill="#6dbda5" textLength="84.3" lengthAdjust="spacingAndGlyphs">03/7 &amp; 22/8</text>
<path d="M347.3,622.3L358.3,627.05L347.3,631.8Z" fill="#6dbda5"/>
<text x="359.5" y="632.7" font-size="15.2" fill="#6dbda5" textLength="33.9" lengthAdjust="spacingAndGlyphs">30/9</text>
<text x="73.9" y="656.4" font-size="18.2" fill="#141414" textLength="107.0" lengthAdjust="spacingAndGlyphs">Tarif REDUIT</text>
<circle cx="193.9" cy="649.3" r="6.7" fill="#111"/>
<path d="M186.5,647.6 L193.6,647.6 L193.6,645.2 L199.6,649.3 L193.6,653.4 L193.6,651 L186.5,651Z" fill="#fff"/>
<text x="207.1" y="656.4" font-size="18.2" fill="#c25e38" textLength="15.3" lengthAdjust="spacingAndGlyphs">17</text>
<text x="222.2" y="651.2" font-size="10.8" fill="#c25e38" textLength="9.8" lengthAdjust="spacingAndGlyphs">€</text>
<text x="238.2" y="656.4" font-size="18.2" fill="#141414" textLength="53.3" lengthAdjust="spacingAndGlyphs">la nuit</text>
<text x="296.4" y="656.4" font-size="14.2" fill="#383838" textLength="472.6" lengthAdjust="spacingAndGlyphs">Forfait 2 personnes + véhicule + électricité STANDARD + animal</text>
<text x="73.9" y="675.1" font-size="15.6" fill="#858585" textLength="638.5" lengthAdjust="spacingAndGlyphs">Sur présentation carte partenaire VIA NATURA, ACSI ou autres (ANWB, ADAC, FFCC, ...)</text>
<text x="833.2" y="657.3" font-size="18.200000000000003" fill="#141414" textLength="196.3" lengthAdjust="spacingAndGlyphs">Spécial LONG SEJOUR:</text>
<text x="1035.4" y="657.3" font-size="18.200000000000003" fill="#c9522c" textLength="41.0" lengthAdjust="spacingAndGlyphs">-15%</text>
<text x="833.2" y="676.5" font-size="15.0" fill="#858585" textLength="215.8" lengthAdjust="spacingAndGlyphs">A partir de 10 nuits minimum</text>
<text x="9.6" y="693.8" font-size="10.6" fill="#5a5a5a" textLength="1228.7" lengthAdjust="spacingAndGlyphs">* Autoconsommation 100% : énergie solaire ou batterie véhicule (prise 12V) à 100% pour batterie téléphone, éclairage, glacière électrique, ... – FAIBLE consommation : électricité GOR pour batterie téléphone, éclairage, batterie vélo – Consommation</text>
<text x="9.6" y="706.4" font-size="10.6" fill="#5a5a5a" textLength="1031.3" lengthAdjust="spacingAndGlyphs">STANDARD : électricité GOR pour glacière électrique, réfrigérateur, machine à café, bouilloire, plaque de cuisson (supplément pour climatisation) – Electricité GOR = Electricité Garantie d’Origine Renouvelable</text>
<path d="M36.5,442.8L36.5,446.2 M28.2,445.6L30.1,448.2 M44.9,445.6L43,448.2 M21.3,451.2L24.4,453 M51.7,451.2L48.6,453" stroke="#111" stroke-width="1.4" stroke-linecap="round"/>
<path d="M31.8,474.2 C31.4,470.2 25.6,467.6 25.6,460.4 A10.9,10.9 0 1,1 47.4,460.4 C47.4,467.6 41.6,470.2 41.2,474.2 Z" stroke="#111" stroke-width="1.6" fill="none"/>
<path d="M31.8,476.2L41.2,476.2 M32.2,478.8L40.8,478.8 M32.8,481.4L40.2,481.4 M34.4,483.6L38.6,483.6 M33.6,463.6L36.5,472.5L39.4,463.6 M33.6,463.6L36.5,465.6L39.4,463.6 M29.6,456.5 A7.5,7.5 0 0,1 33.5,452.2" stroke="#111" stroke-width="1.3" fill="none" stroke-linecap="round"/>
<rect x="23.4" y="491.6" width="27.4" height="38.9" rx="4.2" stroke="#111" stroke-width="2.6" fill="none"/>
<path d="M23.4,505.3L50.8,505.3 M28,495.6L28,502.4 M46.8,495.6L46.8,496.4 M46.8,499.4L46.8,502.4 M28,509L28,522 M46.8,509L46.8,525.4" stroke="#111" stroke-width="2.3" stroke-linecap="round" fill="none"/>
<path d="M386.50,505.70L386.50,492.70M386.50,501.10L392.50,494.90M386.50,501.10L380.50,494.90M391.00,508.30L402.26,501.80M394.99,506.00L403.36,508.10M394.99,506.00L397.36,497.70M391.00,513.50L402.26,520.00M394.99,515.80L397.36,524.10M394.99,515.80L403.36,513.70M386.50,516.10L386.50,529.10M386.50,520.70L380.50,526.90M386.50,520.70L392.50,526.90M382.00,513.50L370.74,520.00M378.01,515.80L369.64,513.70M378.01,515.80L375.64,524.10M382.00,508.30L370.74,501.80M378.01,506.00L375.64,497.70M378.01,506.00L369.64,508.10" stroke="#111" stroke-width="3.2" stroke-linecap="round" fill="none"/>
<circle cx="386.5" cy="510.9" r="4.6" stroke="#111" stroke-width="3.2" fill="#fff"/>
<path d="M894,447.9 L901.3,447.9 A6.65,6.65 0 0,1 901.3,461.2 L885.2,461.2 A6.3,6.3 0 0,0 885.2,473.8 L896,473.8" stroke="#111" stroke-width="5.2" fill="none"/>
<rect x="882.7" y="442.3" width="13.5" height="8.6" rx="2.2" fill="#111"/>
<path d="M895.5,467.6 L905.8,467.6 L905.8,469.6 L911.6,469.6 L911.6,472.8 L905.8,472.8 L905.8,476.4 L911.6,476.4 L911.6,479.6 L905.8,479.6 L905.8,482.2 L895.5,482.2 Q893.8,482.2 893.8,480.5 L893.8,469.3 Q893.8,467.6 895.5,467.6Z" fill="#111"/>
<rect x="852.4" y="491.5" width="20.4" height="31.6" rx="2.6" stroke="#111" stroke-width="1.8" fill="none"/>
<path d="M850.6,526.4L874.4,526.4 M855.2,523L854.6,526 M869.8,523L870.6,526 M857.8,501.6L862.8,501.6L863.2,503.6" stroke="#111" stroke-width="1.5" fill="none" stroke-linecap="round"/>
<path d="M25.7,591.6 L25.7,566.1 L50.1,566.1 L50.1,591.6 M19.9,583 L19.9,597.9 L55.6,597.9 L55.6,583" stroke="#111" stroke-width="3.4" fill="none"/>
<path d="M30.8,580.3 L36.1,585.8 L44.8,577" stroke="#111" stroke-width="2.3" fill="none"/>
<rect x="25.9" y="601.9" width="23.9" height="3.4" fill="#111"/>
<path d="M472.4,583.3 A12.6,12.6 0 1,1 494.8,583.3 L483.5,604.8 Z" fill="#111"/>
<circle cx="483.6" cy="577.6" r="7.6" fill="#fff"/>
<path d="M808.6,565.2 L797.4,587.4 L803.6,589.6 L807.6,578.6 L811.4,591.6 L820.2,595.4 Z M810.8,565.2 L828.4,565.2 L838.2,589 L822.6,595.6 Z" fill="#111"/>
<rect x="23.4" y="646.1" width="41.4" height="27.3" rx="2.6" stroke="#111" stroke-width="2" fill="none"/>
<path d="M38.6,652.4L29.6,664 M43.8,654L53.8,654 M56.6,654L59.8,654 M43.8,658.1L49.4,658.1 M52.4,658.1L57,658.1 M43.8,662.5L52.8,662.5" stroke="#111" stroke-width="1.6" stroke-linecap="round" fill="none"/>
<circle cx="30.4" cy="654.4" r="1.9" stroke="#111" stroke-width="1.3" fill="none"/><circle cx="37.4" cy="662" r="1.9" stroke="#111" stroke-width="1.3" fill="none"/>
<path d="M26.2,670L62,670" stroke="#111" stroke-width="2" stroke-dasharray="1.5,2.08" fill="none"/>
<rect x="792.6" y="646.6" width="32" height="29.2" rx="2.6" stroke="#111" stroke-width="2" fill="none"/>
<rect x="792" y="646" width="33" height="6.8" rx="2" fill="#111"/>
<rect x="794.1" y="643.6" width="3.4" height="7.2" rx="1.7" fill="#111"/><path d="M795.8,645.2L795.8,649.8" stroke="#ddd" stroke-width="0.8"/>
<rect x="800.3" y="643.6" width="3.4" height="7.2" rx="1.7" fill="#111"/><path d="M802.0,645.2L802.0,649.8" stroke="#ddd" stroke-width="0.8"/>
<rect x="806.4" y="643.6" width="3.4" height="7.2" rx="1.7" fill="#111"/><path d="M808.1,645.2L808.1,649.8" stroke="#ddd" stroke-width="0.8"/>
<rect x="812.6" y="643.6" width="3.4" height="7.2" rx="1.7" fill="#111"/><path d="M814.3,645.2L814.3,649.8" stroke="#ddd" stroke-width="0.8"/>
<rect x="818.8" y="643.6" width="3.4" height="7.2" rx="1.7" fill="#111"/><path d="M820.5,645.2L820.5,649.8" stroke="#ddd" stroke-width="0.8"/>
<rect x="795.2" y="660.2" width="25.8" height="4.6" fill="#111"/>
<circle cx="798.6" cy="657.1" r="1.15" fill="#111"/><circle cx="803.2" cy="657.1" r="1.15" fill="#111"/><circle cx="808.1" cy="657.1" r="1.15" fill="#111"/><circle cx="813.1" cy="657.1" r="1.15" fill="#111"/><circle cx="818" cy="657.1" r="1.15" fill="#111"/><circle cx="798.6" cy="667.9" r="1.15" fill="#111"/><circle cx="803.2" cy="667.9" r="1.15" fill="#111"/><circle cx="808.1" cy="667.9" r="1.15" fill="#111"/><circle cx="813.1" cy="667.9" r="1.15" fill="#111"/><circle cx="818" cy="667.9" r="1.15" fill="#111"/><circle cx="798.6" cy="671.9" r="1.15" fill="#111"/><circle cx="803.2" cy="671.9" r="1.15" fill="#111"/><circle cx="808.1" cy="671.9" r="1.15" fill="#111"/><circle cx="813.1" cy="671.9" r="1.15" fill="#111"/><circle cx="818" cy="671.9" r="1.15" fill="#111"/><circle cx="798.6" cy="662.5" r="1.1" fill="#fff"/><circle cx="803.2" cy="662.5" r="1.1" fill="#fff"/><circle cx="808.1" cy="662.5" r="1.1" fill="#fff"/><circle cx="813.1" cy="662.5" r="1.1" fill="#fff"/><circle cx="818" cy="662.5" r="1.1" fill="#fff"/>
<defs><clipPath id="blob"><path d="M1124.6,590 C1125,578 1140,562 1160,553 C1185,542 1210,540 1225,542 C1245,546 1255,565 1258.5,595 C1261,615 1258,632 1245,638.5 C1235,642 1220,638 1200,629 C1180,620 1150,608 1130,599 C1126,597 1124.4,594 1124.6,590Z"/></clipPath>
<linearGradient id="trees" x1="0" y1="0" x2="0" y2="1"><stop offset="0" stop-color="#6e9c52"/><stop offset="0.5" stop-color="#527f3a"/><stop offset="1" stop-color="#7ea85c"/></linearGradient>
<linearGradient id="ground" x1="0" y1="0" x2="0" y2="1"><stop offset="0" stop-color="#8e7c5e"/><stop offset="1" stop-color="#5e4a34"/></linearGradient>
<filter id="blur1" x="-20%" y="-20%" width="140%" height="140%"><feGaussianBlur stdDeviation="1.0"/></filter></defs>
<g clip-path="url(#blob)"><rect x="1120" y="535" width="145" height="110" fill="url(#trees)"/><g filter="url(#blur1)"><ellipse cx="1168.7" cy="552.4" rx="4.1" ry="1.8" fill="#a9cd8a" opacity="0.75"/><ellipse cx="1137.7" cy="579.1" rx="5.1" ry="2.4" fill="#9cc47a" opacity="0.75"/><ellipse cx="1183.5" cy="547.3" rx="1.9" ry="3.2" fill="#35592a" opacity="0.75"/><ellipse cx="1201.3" cy="601.7" rx="4.0" ry="3.8" fill="#9cc47a" opacity="0.75"/><ellipse cx="1202.9" cy="567.6" rx="5.4" ry="1.7" fill="#35592a" opacity="0.75"/><ellipse cx="1143.0" cy="569.0" rx="3.7" ry="3.8" fill="#a9cd8a" opacity="0.75"/><ellipse cx="1235.2" cy="554.2" rx="3.8" ry="4.1" fill="#3e6a2a" opacity="0.75"/><ellipse cx="1138.2" cy="587.2" rx="3.8" ry="4.0" fill="#4d7c36" opacity="0.75"/><ellipse cx="1216.9" cy="569.5" rx="2.8" ry="3.8" fill="#4d7c36" opacity="0.75"/><ellipse cx="1173.8" cy="558.4" rx="2.2" ry="4.6" fill="#9cc47a" opacity="0.75"/><ellipse cx="1202.5" cy="575.6" rx="5.0" ry="4.4" fill="#3e6a2a" opacity="0.75"/><ellipse cx="1207.2" cy="547.5" rx="3.5" ry="2.2" fill="#3e6a2a" opacity="0.75"/><ellipse cx="1145.5" cy="573.3" rx="1.7" ry="4.2" fill="#35592a" opacity="0.75"/><ellipse cx="1200.3" cy="591.9" rx="4.8" ry="2.9" fill="#3e6a2a" opacity="0.75"/><ellipse cx="1205.2" cy="579.0" rx="3.3" ry="4.9" fill="#3e6a2a" opacity="0.75"/><ellipse cx="1189.0" cy="584.2" rx="1.7" ry="4.3" fill="#6c9a4c" opacity="0.75"/><ellipse cx="1203.0" cy="585.2" rx="3.3" ry="4.4" fill="#6c9a4c" opacity="0.75"/><ellipse cx="1171.8" cy="601.3" rx="2.9" ry="3.9" fill="#4d7c36" opacity="0.75"/><ellipse cx="1133.0" cy="590.6" rx="2.0" ry="2.5" fill="#4d7c36" opacity="0.75"/><ellipse cx="1248.8" cy="573.8" rx="2.2" ry="3.1" fill="#3e6a2a" opacity="0.75"/><ellipse cx="1244.3" cy="593.8" rx="5.0" ry="2.6" fill="#4d7c36" opacity="0.75"/><ellipse cx="1258.2" cy="585.3" rx="3.0" ry="2.4" fill="#9cc47a" opacity="0.75"/><ellipse cx="1148.8" cy="557.4" rx="2.4" ry="3.4" fill="#a9cd8a" opacity="0.75"/><ellipse cx="1149.6" cy="560.5" rx="2.1" ry="3.6" fill="#a9cd8a" opacity="0.75"/><ellipse cx="1201.5" cy="602.1" rx="4.3" ry="3.6" fill="#a9cd8a" opacity="0.75"/><ellipse cx="1213.4" cy="588.9" rx="3.3" ry="5.0" fill="#35592a" opacity="0.75"/><ellipse cx="1216.9" cy="577.7" rx="3.1" ry="3.1" fill="#4d7c36" opacity="0.75"/><ellipse cx="1210.6" cy="546.9" rx="1.8" ry="2.3" fill="#86b464" opacity="0.75"/><ellipse cx="1139.8" cy="580.2" rx="1.9" ry="3.8" fill="#a9cd8a" opacity="0.75"/><ellipse cx="1138.7" cy="565.5" rx="1.6" ry="5.0" fill="#a9cd8a" opacity="0.75"/><ellipse cx="1175.8" cy="582.3" rx="5.3" ry="3.9" fill="#4d7c36" opacity="0.75"/><ellipse cx="1141.6" cy="595.6" rx="5.5" ry="3.4" fill="#4d7c36" opacity="0.75"/><ellipse cx="1167.1" cy="551.9" rx="4.5" ry="4.5" fill="#4d7c36" opacity="0.75"/><ellipse cx="1236.9" cy="553.0" rx="1.6" ry="5.3" fill="#a9cd8a" opacity="0.75"/><ellipse cx="1173.8" cy="585.8" rx="5.2" ry="4.5" fill="#3e6a2a" opacity="0.75"/><ellipse cx="1257.1" cy="596.5" rx="4.3" ry="2.5" fill="#3e6a2a" opacity="0.75"/><ellipse cx="1247.6" cy="565.1" rx="2.4" ry="3.7" fill="#a9cd8a" opacity="0.75"/><ellipse cx="1169.5" cy="556.8" rx="4.7" ry="5.4" fill="#35592a" opacity="0.75"/><ellipse cx="1151.3" cy="557.8" rx="3.1" ry="4.7" fill="#86b464" opacity="0.75"/><ellipse cx="1194.9" cy="565.0" rx="1.6" ry="1.6" fill="#3e6a2a" opacity="0.75"/><ellipse cx="1188.8" cy="555.0" rx="3.9" ry="2.9" fill="#35592a" opacity="0.75"/><ellipse cx="1251.5" cy="604.3" rx="5.3" ry="3.0" fill="#86b464" opacity="0.75"/><ellipse cx="1138.8" cy="572.1" rx="2.9" ry="3.4" fill="#a9cd8a" opacity="0.75"/><ellipse cx="1238.5" cy="572.7" rx="4.1" ry="4.7" fill="#9cc47a" opacity="0.75"/><ellipse cx="1237.7" cy="550.4" rx="3.1" ry="4.3" fill="#86b464" opacity="0.75"/><ellipse cx="1189.5" cy="554.1" rx="4.7" ry="2.8" fill="#35592a" opacity="0.75"/><ellipse cx="1252.7" cy="587.8" rx="3.4" ry="4.5" fill="#9cc47a" opacity="0.75"/><ellipse cx="1222.8" cy="553.5" rx="2.0" ry="2.1" fill="#4d7c36" opacity="0.75"/><ellipse cx="1233.9" cy="552.1" rx="4.8" ry="5.4" fill="#6c9a4c" opacity="0.75"/><ellipse cx="1251.6" cy="552.7" rx="3.7" ry="1.6" fill="#35592a" opacity="0.75"/><ellipse cx="1256.1" cy="583.3" rx="3.6" ry="5.2" fill="#4d7c36" opacity="0.75"/><ellipse cx="1258.2" cy="555.1" rx="5.0" ry="1.6" fill="#86b464" opacity="0.75"/><ellipse cx="1164.6" cy="557.9" rx="3.8" ry="2.5" fill="#4d7c36" opacity="0.75"/><ellipse cx="1237.6" cy="546.8" rx="4.5" ry="5.1" fill="#6c9a4c" opacity="0.75"/><ellipse cx="1203.8" cy="599.1" rx="3.2" ry="5.2" fill="#a9cd8a" opacity="0.75"/><ellipse cx="1142.7" cy="552.4" rx="3.5" ry="5.0" fill="#35592a" opacity="0.75"/><ellipse cx="1149.7" cy="543.2" rx="4.7" ry="2.2" fill="#4d7c36" opacity="0.75"/><ellipse cx="1208.6" cy="550.5" rx="1.7" ry="4.2" fill="#a9cd8a" opacity="0.75"/><ellipse cx="1200.0" cy="591.6" rx="1.9" ry="3.7" fill="#86b464" opacity="0.75"/><ellipse cx="1150.8" cy="545.6" rx="1.9" ry="3.3" fill="#9cc47a" opacity="0.75"/><ellipse cx="1227.6" cy="599.6" rx="3.3" ry="4.0" fill="#a9cd8a" opacity="0.75"/><ellipse cx="1206.8" cy="555.4" rx="2.6" ry="3.5" fill="#35592a" opacity="0.75"/><ellipse cx="1189.5" cy="601.4" rx="4.3" ry="5.0" fill="#3e6a2a" opacity="0.75"/><ellipse cx="1249.6" cy="598.4" rx="2.3" ry="3.3" fill="#4d7c36" opacity="0.75"/><ellipse cx="1141.4" cy="570.4" rx="1.8" ry="2.5" fill="#9cc47a" opacity="0.75"/><ellipse cx="1153.7" cy="561.8" rx="2.0" ry="4.6" fill="#6c9a4c" opacity="0.75"/><ellipse cx="1211.9" cy="565.7" rx="2.5" ry="2.0" fill="#4d7c36" opacity="0.75"/><ellipse cx="1154.6" cy="602.1" rx="3.1" ry="3.4" fill="#6c9a4c" opacity="0.75"/><ellipse cx="1237.4" cy="553.0" rx="3.2" ry="3.6" fill="#3e6a2a" opacity="0.75"/><ellipse cx="1181.9" cy="565.1" rx="1.9" ry="3.0" fill="#3e6a2a" opacity="0.75"/><ellipse cx="1205" cy="549" rx="6" ry="4" fill="#dde8e4" opacity="0.9"/><ellipse cx="1193" cy="553" rx="3" ry="3" fill="#cfdfd8" opacity="0.8"/><ellipse cx="1228" cy="552" rx="3" ry="4" fill="#c4d8c8" opacity="0.7"/><ellipse cx="1212" cy="560" rx="3" ry="2" fill="#d0e0d8" opacity="0.7"/></g><rect x="1136" y="565" width="1.3" height="38" fill="#d2d8c2" opacity="0.4"/><rect x="1150" y="560" width="1.3" height="40" fill="#d2d8c2" opacity="0.4"/><rect x="1176" y="553" width="1.3" height="50" fill="#d2d8c2" opacity="0.4"/><rect x="1196" y="555" width="1.3" height="45" fill="#d2d8c2" opacity="0.4"/><rect x="1232" y="560" width="1.3" height="45" fill="#d2d8c2" opacity="0.4"/><ellipse cx="1150" cy="592" rx="9" ry="3.5" fill="#a8b8d4" opacity="0.85"/><path d="M1120,597 C1160,599 1210,602 1265,603 L1265,611 C1210,609 1160,609 1120,605Z" fill="#a9be86" opacity="0.9"/><path d="M1120,605 C1160,607 1200,605 1265,607 L1265,645 L1120,645Z" fill="url(#ground)"/><g filter="url(#blur1)"><ellipse cx="1202.0" cy="622.1" rx="2.1" ry="1.8" fill="#b49e7a" opacity="0.6"/><ellipse cx="1196.6" cy="610.1" rx="6.9" ry="3.0" fill="#a8926e" opacity="0.6"/><ellipse cx="1140.9" cy="616.7" rx="6.5" ry="1.5" fill="#6a5640" opacity="0.6"/><ellipse cx="1236.6" cy="635.2" rx="5.4" ry="3.4" fill="#4e3c2a" opacity="0.6"/><ellipse cx="1149.4" cy="637.4" rx="4.9" ry="2.8" fill="#a8926e" opacity="0.6"/><ellipse cx="1166.3" cy="633.6" rx="2.9" ry="3.2" fill="#b49e7a" opacity="0.6"/><ellipse cx="1252.0" cy="628.3" rx="6.0" ry="1.2" fill="#6a5640" opacity="0.6"/><ellipse cx="1138.7" cy="635.6" rx="4.3" ry="1.8" fill="#4e3c2a" opacity="0.6"/><ellipse cx="1250.5" cy="616.6" rx="2.6" ry="2.3" fill="#6a5640" opacity="0.6"/><ellipse cx="1252.0" cy="639.0" rx="3.3" ry="1.5" fill="#b49e7a" opacity="0.6"/><ellipse cx="1211.7" cy="625.0" rx="3.0" ry="2.1" fill="#6a5640" opacity="0.6"/><ellipse cx="1165.2" cy="633.7" rx="7.0" ry="1.1" fill="#a8926e" opacity="0.6"/><ellipse cx="1225.3" cy="625.6" rx="2.9" ry="2.2" fill="#4e3c2a" opacity="0.6"/><ellipse cx="1143.8" cy="634.2" rx="4.2" ry="2.2" fill="#4e3c2a" opacity="0.6"/><ellipse cx="1256.1" cy="617.8" rx="3.1" ry="1.6" fill="#6a5640" opacity="0.6"/><ellipse cx="1238.2" cy="630.6" rx="5.2" ry="2.0" fill="#b49e7a" opacity="0.6"/><ellipse cx="1257.6" cy="634.8" rx="2.1" ry="2.6" fill="#b49e7a" opacity="0.6"/><ellipse cx="1186.0" cy="609.8" rx="5.3" ry="2.0" fill="#b49e7a" opacity="0.6"/><ellipse cx="1207.8" cy="630.2" rx="2.2" ry="1.5" fill="#b49e7a" opacity="0.6"/><ellipse cx="1188.0" cy="616.4" rx="6.8" ry="3.4" fill="#b49e7a" opacity="0.6"/><ellipse cx="1161.8" cy="638.9" rx="3.5" ry="1.9" fill="#a8926e" opacity="0.6"/><ellipse cx="1173.6" cy="610.7" rx="3.4" ry="2.6" fill="#6a5640" opacity="0.6"/><ellipse cx="1195.6" cy="608.2" rx="3.3" ry="1.2" fill="#4e3c2a" opacity="0.6"/><ellipse cx="1206.3" cy="620.6" rx="3.5" ry="2.6" fill="#a8926e" opacity="0.6"/><ellipse cx="1206.1" cy="624.9" rx="5.8" ry="2.6" fill="#4e3c2a" opacity="0.6"/><ellipse cx="1229.4" cy="631.1" rx="4.5" ry="1.7" fill="#6a5640" opacity="0.6"/><ellipse cx="1135.7" cy="634.7" rx="6.5" ry="2.6" fill="#6a5640" opacity="0.6"/><ellipse cx="1248.3" cy="632.1" rx="4.8" ry="3.0" fill="#a8926e" opacity="0.6"/><ellipse cx="1237.4" cy="626.7" rx="6.5" ry="2.7" fill="#6a5640" opacity="0.6"/><ellipse cx="1141.1" cy="609.3" rx="5.2" ry="3.4" fill="#4e3c2a" opacity="0.6"/><ellipse cx="1238.7" cy="625.9" rx="5.1" ry="2.6" fill="#6a5640" opacity="0.6"/><ellipse cx="1193.6" cy="608.1" rx="6.0" ry="2.9" fill="#a8926e" opacity="0.6"/><ellipse cx="1215.7" cy="610.1" rx="5.7" ry="1.6" fill="#a8926e" opacity="0.6"/><ellipse cx="1240.0" cy="615.5" rx="5.8" ry="1.6" fill="#4e3c2a" opacity="0.6"/><ellipse cx="1194.2" cy="620.2" rx="4.4" ry="2.7" fill="#a8926e" opacity="0.6"/></g><path d="M1210,581 L1222,596 L1231,609 L1194,609 L1202,596 Z" fill="#cc9c66"/><path d="M1171,588.5 L1207,590 L1213,599 L1196,606 L1181,596Z" fill="#d29c64"/><path d="M1196,604 L1213,600 L1216,609 L1195,609Z" fill="#b07a4a"/><rect x="1195" y="608.5" width="37" height="3" fill="#2f4d4a"/><rect x="1209.4" y="567" width="1.2" height="15" fill="#c9b48a"/><rect x="1169" y="595" width="4.5" height="14" fill="#4a5a70" opacity="0.9"/></g>
</svg></body></html>
